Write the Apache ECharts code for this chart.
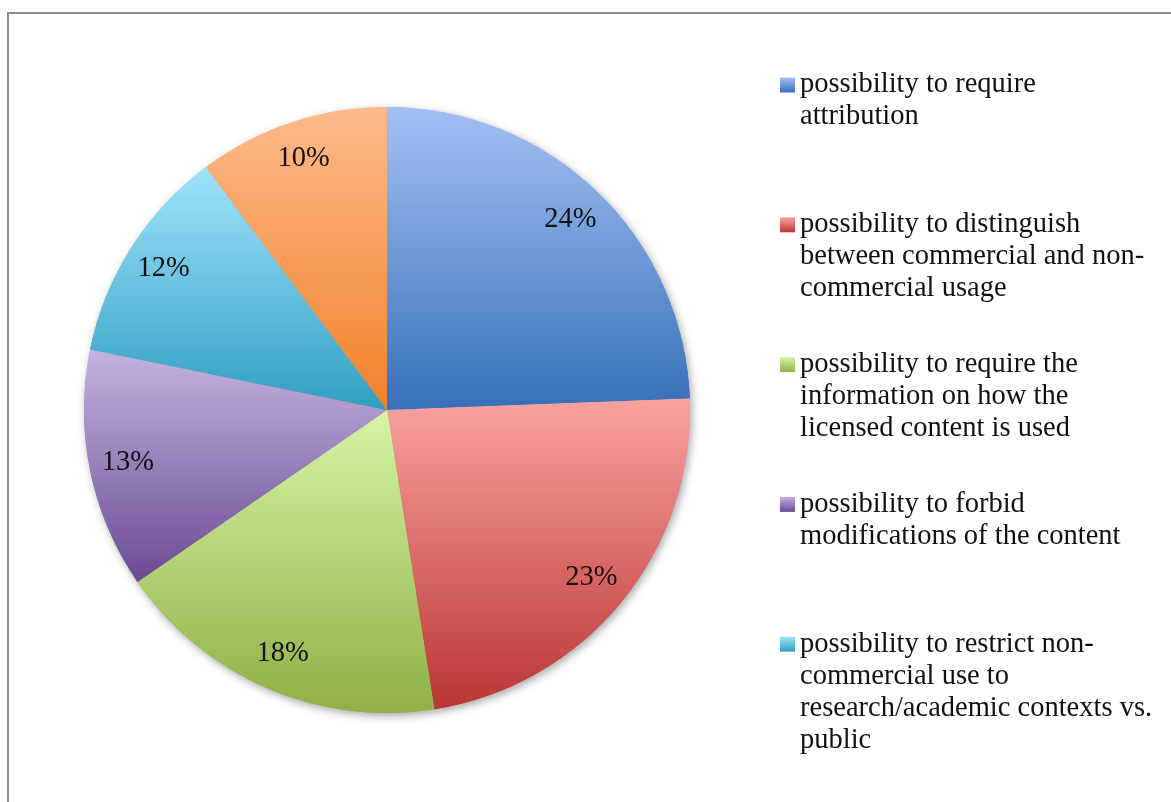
<!DOCTYPE html>
<html>
<head>
<meta charset="utf-8">
<script src="https://cdn.jsdelivr.net/npm/echarts@6/dist/echarts.min.js"></script>
<style>
  html, body { margin: 0; padding: 0; background: #ffffff; }
  #frame { position: absolute; left: 7px; top: 12px; width: 1300px; height: 900px;
           border-left: 2px solid #8c8c8c; border-top: 2px solid #8c8c8c; }
  #chart { position: absolute; left: 0; top: 0; width: 1171px; height: 802px; }
</style>
</head>
<body>
<div id="frame"></div>
<div id="chart"></div>
<script>
// ---- data ----
const categories = [
  'possibility to require\nattribution',
  'possibility to distinguish\nbetween commercial and non-\ncommercial usage',
  'possibility to require the\ninformation on how the\nlicensed content is used',
  'possibility to forbid\nmodifications of the content',
  'possibility to restrict non-\ncommercial use to\nresearch/academic contexts vs.\npublic',
  'other (not shown in legend)'
];
const values = [24.4, 23.1, 17.9, 12.8, 11.6, 10.2];
const legendCount = 5;

// ---- styles ----
const topColors    = ['#a4c0f5', '#f9a2a0', '#d5f5a6', '#c4b2e0', '#a0e3fd', '#fdba8b'];
const bottomColors = ['#3670b8', '#ba3634', '#8eb044', '#6b4b93', '#2f9fc0', '#f18129'];
const FONT = 'Liberation Serif';
const FS = 28.5;
const LH = 32;

const chart = echarts.init(document.getElementById('chart'), null, { renderer: 'canvas' });

function grad(i) {
  return {
    type: 'linear', x: 0, y: 0, x2: 0, y2: 1,
    colorStops: [{ offset: 0, color: topColors[i] }, { offset: 1, color: bottomColors[i] }]
  };
}

const pieData = categories.map((name, i) => ({ name: name, value: values[i], itemStyle: { color: grad(i) } }));
const labelData = categories.map((name, i) => ({ name: name, value: values[i] }));

const center = [387, 410];
const R = 303;

// one legend block per item so every item starts at an equal pitch, icon aligned with first line
const legends = categories.slice(0, legendCount).map((name, i) => {
  const n = name.split('\n').length;
  const iconCenter = 85 + 139.8 * i;
  return {
    orient: 'vertical',
    left: 780,
    top: iconCenter - (2 * n - 1) * LH / 2,
    padding: 0,
    itemWidth: 15,
    itemHeight: 15,
    icon: 'rect',
    selectedMode: false,
    data: [name],
    formatter: nm => '\n'.repeat(n - 1) + nm,
    textStyle: {
      fontFamily: FONT,
      fontSize: FS,
      lineHeight: LH,
      color: '#111111'
    }
  };
});

chart.setOption({
  animation: false,
  backgroundColor: 'transparent',
  legend: legends,
  series: [
    {
      type: 'pie', name: 'shadow', center: center, radius: R, startAngle: 90, clockwise: true,
      silent: true, z: 1,
      label: { show: false }, labelLine: { show: false },
      itemStyle: { borderWidth: 0, shadowBlur: 8, shadowColor: 'rgba(0,0,0,0.35)', shadowOffsetX: 2, shadowOffsetY: 3 },
      emphasis: { disabled: true },
      data: pieData
    },
    {
      type: 'pie', name: 'main', center: center, radius: R, startAngle: 90, clockwise: true,
      silent: true, z: 2,
      label: { show: false }, labelLine: { show: false },
      itemStyle: { borderWidth: 0 },
      emphasis: { disabled: true },
      data: pieData
    },
    {
      type: 'pie', name: 'labels', center: center, radius: [220, R], startAngle: 90, clockwise: true,
      silent: true, z: 3,
      itemStyle: { color: 'rgba(0,0,0,0)', borderWidth: 0 },
      label: {
        show: true, position: 'inside',
        formatter: p => Math.round(p.percent) + '%',
        fontFamily: FONT, fontSize: FS, color: '#111111'
      },
      labelLine: { show: false },
      emphasis: { disabled: true },
      data: labelData
    }
  ]
});
</script>
</body>
</html>
